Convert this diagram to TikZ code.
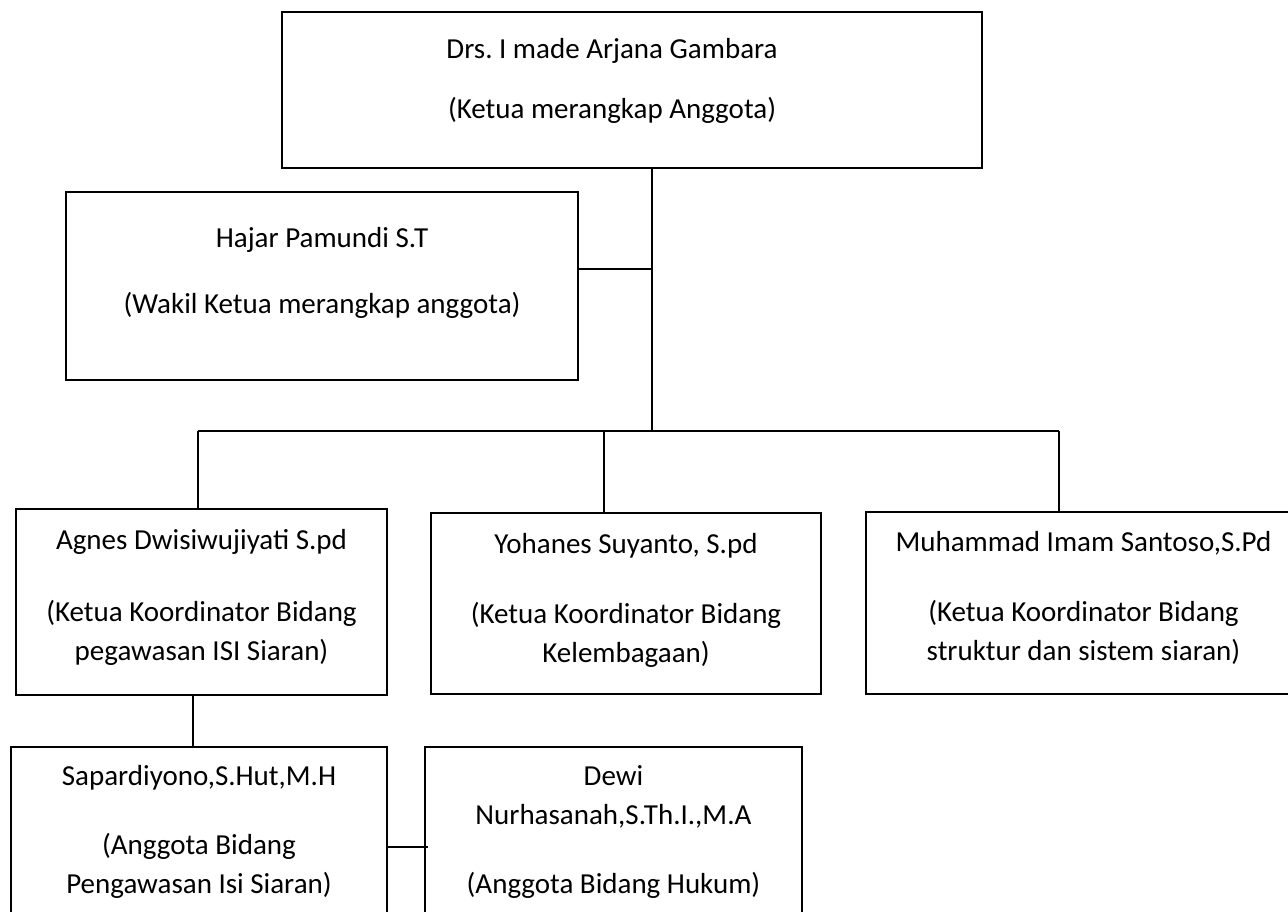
\documentclass[tikz,border=0pt]{standalone}
\usepackage{fontspec}
\setmainfont{Carlito}
\usepackage{tikz}
\usetikzlibrary{calc}
\frenchspacing
\tikzstyle{member} = [draw, rectangle, line width=2.6pt, inner sep=0pt, align=center, font={\fontsize{29}{39}\selectfont}]
\tikzstyle{connector} = [line width=2.2pt]
\newcommand{\pushup}[1]{\rule[-#1]{0pt}{#1}}

\begin{document}
\begin{tikzpicture}[x=1pt, y=-1pt]
    \path [use as bounding box, fill=white] (0,0) rectangle (1288,912);

    \node (1) [member, minimum width=700pt, minimum height=156pt] at (632,90) {Drs. I made Arjana Gambara\hspace*{40pt}\\[21pt](Ketua merangkap Anggota)\hspace*{40pt}\pushup{24pt}};
    \node (2) [member, minimum width=512pt, minimum height=188pt] at (322,286) {Hajar Pamundi S.T\\[27pt](Wakil Ketua merangkap anggota)\pushup{32pt}};
    \node (3) [member, minimum width=371pt, minimum height=186pt] at (201.5,602) {Agnes Dwisiwujiyati S.pd\\[33pt](Ketua Koordinator Bidang\\pegawasan ISI Siaran)\pushup{14pt}};
    \node (4) [member, minimum width=390pt, minimum height=181pt] at (626,603.5) {Yohanes Suyanto, S.pd\\[31pt](Ketua Koordinator Bidang\\Kelembagaan)\pushup{12pt}};
    \node (5) [member, minimum width=435pt, minimum height=182pt] at (1083.5,603) {Muhammad Imam Santoso,S.Pd\\[31pt](Ketua Koordinator Bidang\\struktur dan sistem siaran)\pushup{14pt}};
    \node (6) [member, minimum width=376pt, minimum height=170pt] at (199,832) {Sapardiyono,S.Hut,M.H\\[30pt](Anggota Bidang\\Pengawasan Isi Siaran)};
    \node (7) [member, minimum width=377pt, minimum height=170pt] at (613.5,832) {Dewi\\Nurhasanah,S.Th.I.,M.A\\[30pt](Anggota Bidang Hukum)};

    \coordinate (bus) at (652,431);
    \coordinate (a) at (198,431);
    \coordinate (y) at (604,431);
    \coordinate (m) at (1059,431);

    \draw [connector] (1.south -| bus) -- (bus);
    \draw [connector] ([yshift=17pt]2.east) -- ([yshift=17pt]2.east -| bus);
    \draw [connector] (a) -- (m);
    \draw [connector] (a) -- (a |- 3.north);
    \draw [connector] (y) -- (y |- 4.north);
    \draw [connector] (m) -- (m |- 5.north);
    \draw [connector] ([xshift=-8.5pt]3.south) -- ([xshift=-8.5pt]3.south |- 6.north);
    \draw [connector] ([yshift=-15pt]6.east) -- ($(6.east -| 7.west)+(4,15)$);
\end{tikzpicture}
\end{document}
